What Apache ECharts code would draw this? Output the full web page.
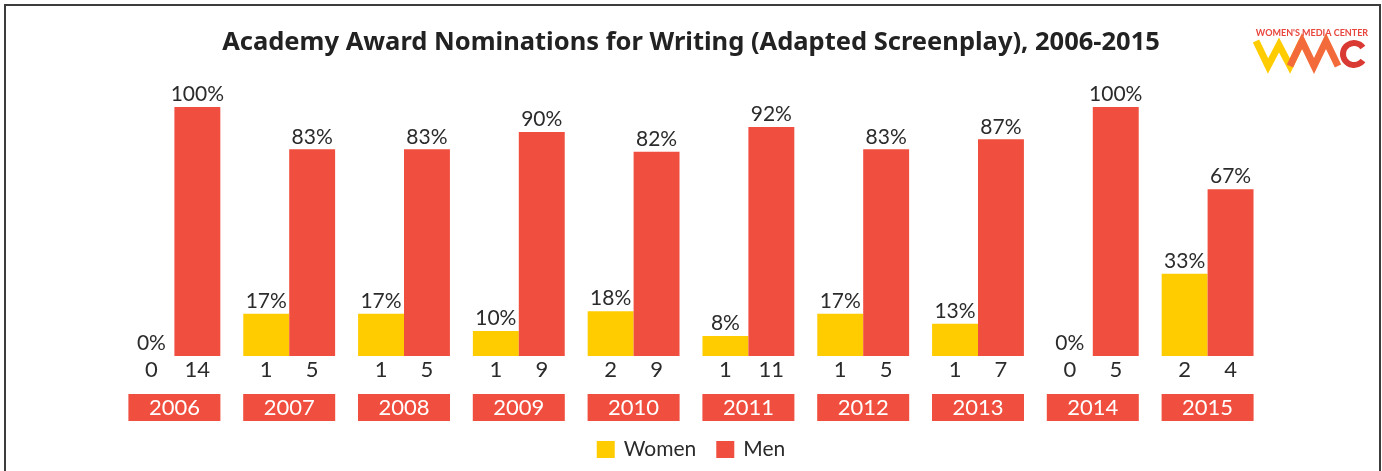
<!DOCTYPE html>
<html>
<head>
<meta charset="utf-8">
<script src="https://cdn.jsdelivr.net/npm/echarts@6/dist/echarts.min.js"></script>
<style>
    html, body { margin: 0; padding: 0; background: #fff; }
    #chart { width: 1382px; height: 471px; }
</style>
</head>
<body>
<div id="chart"></div>
<script>
// data
const years = ["2006", "2007", "2008", "2009", "2010", "2011", "2012", "2013", "2014", "2015"];
const womenPct = [0, 17, 17, 10, 18, 8, 17, 13, 0, 33];
const menPct = [100, 83, 83, 90, 82, 92, 83, 87, 100, 67];
const womenCount = [0, 1, 1, 1, 2, 1, 1, 1, 0, 2];
const menCount = [14, 5, 5, 9, 9, 11, 5, 7, 5, 4];

const RED = "#f04e3e";
const YELLOW = "#ffcc00";
const FONT = "Lato";

const chart = echarts.init(document.getElementById("chart"));

const pctLabel = {
    show: true,
    position: "top",
    distance: 2,
    fontSize: 21,
    fontFamily: FONT,
    color: "#2b2b2b",
    formatter: (p) => p.value + "%",
};

// count labels sit under each bar, drawn by zero-height bars on a twin axis
const countLabel = (arr) => ({
    show: true,
    position: "bottom",
    distance: 3,
    fontSize: 22,
    fontFamily: FONT,
    color: "#2b2b2b",
    formatter: (p) => String(arr[p.dataIndex]),
});

const option = {
    animation: false,
    title: {
        text: "Academy Award Nominations for Writing (Adapted Screenplay), 2006-2015",
        left: "center",
        top: 25,
        textStyle: { fontSize: 25.5, fontWeight: "bold", fontFamily: "Noto Sans", color: "#222" },
    },
    legend: {
        data: ["Women", "Men"],
        top: 434,
        left: "center",
        itemWidth: 18,
        itemHeight: 17,
        itemGap: 20,
        icon: "rect",
        textStyle: { fontSize: 21, fontFamily: FONT, color: "#2b2b2b", padding: [0, 0, 0, 4] },
    },
    grid: { left: 117, right: 117, top: 107, bottom: 115 },
    xAxis: [
        {
            type: "category",
            data: years,
            axisLine: { show: false },
            axisTick: { show: false },
            axisLabel: {
                margin: 38,
                width: 92,
                height: 27,
                lineHeight: 27,
                align: "center",
                backgroundColor: RED,
                color: "#fff",
                fontSize: 22,
                fontFamily: FONT,
            },
        },
        {
            type: "category",
            data: years,
            show: false,
        },
    ],
    yAxis: { type: "value", min: 0, max: 100, show: false },
    series: [
        {
            name: "Women",
            type: "bar",
            data: womenPct,
            barGap: "0%",
            barCategoryGap: "20%",
            itemStyle: { color: YELLOW },
            label: pctLabel,
        },
        {
            name: "Men",
            type: "bar",
            data: menPct,
            itemStyle: { color: RED },
            label: pctLabel,
        },
        {
            type: "bar",
            xAxisIndex: 1,
            data: years.map(() => 0),
            barGap: "0%",
            barCategoryGap: "20%",
            itemStyle: { color: "transparent" },
            label: countLabel(womenCount),
            tooltip: { show: false },
        },
        {
            type: "bar",
            xAxisIndex: 1,
            data: years.map(() => 0),
            itemStyle: { color: "transparent" },
            label: countLabel(menCount),
            tooltip: { show: false },
        },
    ],
    graphic: [
        // frame
        {
            type: "rect",
            shape: { x: 5, y: 5, width: 1375, height: 490 },
            style: { fill: "none", stroke: "#3c3c3c", lineWidth: 2 },
        },
        // logo
        {
            type: "text",
            x: 1312,
            y: 29,
            style: {
                text: "WOMEN'S MEDIA CENTER",
                fontSize: 9,
                fontWeight: "bold",
                fontFamily: FONT,
                fill: "#e8453c",
                align: "center",
            },
        },
        {
            type: "polyline",
            shape: { points: [[1256, 41], [1268, 66], [1279, 45], [1290, 66], [1302, 41]] },
            style: { stroke: YELLOW, lineWidth: 7, fill: "none", lineJoin: "miter" },
        },
        {
            type: "polyline",
            shape: { points: [[1290, 66], [1302, 41], [1314, 66], [1326, 41], [1338, 66]] },
            style: { stroke: "#f36b3b", lineWidth: 7, fill: "none", lineJoin: "miter" },
        },
        {
            type: "arc",
            shape: { cx: 1354, cy: 54, r: 11, startAngle: -Math.PI * 0.2, endAngle: Math.PI * 0.2, clockwise: false },
            style: { stroke: "#d93a33", lineWidth: 6, fill: "none" },
        },
    ],
};

chart.setOption(option);
</script>
</body>
</html>
